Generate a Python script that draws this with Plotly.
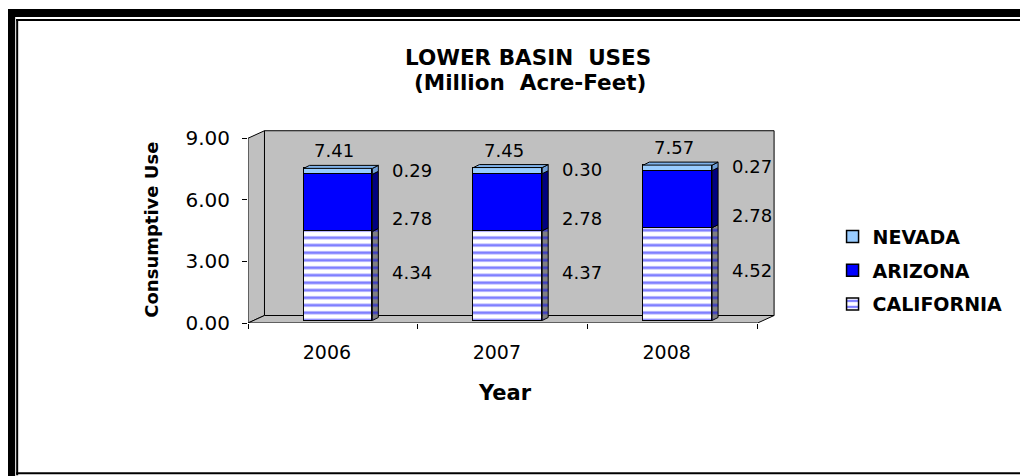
import plotly.graph_objects as go

# ---------------- data ----------------
years = ["2006", "2007", "2008"]
california = [4.34, 4.37, 4.52]
arizona = [2.78, 2.78, 2.78]
nevada = [0.29, 0.30, 0.27]
y_tick_vals = [0, 3, 6, 9]
y_tick_text = ["0.00", "3.00", "6.00", "9.00"]

idx = list(range(len(years)))
totals = [round(c + a + n, 2) for c, a, n in zip(california, arizona, nevada)]

# ---------------- geometry (pixels, in the 1028x476 reference frame) ----------------
OFF = 8                    # page body margin of the html page
W, H = 1028 - OFF, 476 - OFF
X_MIN, X_MAX = -0.5, 2.62
Y_MIN, Y_MAX = 0.0, 9.45
PX_X = 170.0          # px per category
PX_Y = 20.56          # px per unit
L_REF = 248.0
BOTTOM_REF = 323.5
PLOT_W = (X_MAX - X_MIN) * PX_X
PLOT_H = (Y_MAX - Y_MIN) * PX_Y
L = L_REF - OFF
T = BOTTOM_REF - PLOT_H - OFF
R = W - L - PLOT_W
B = H - (BOTTOM_REF - OFF)

def pxx(x):
    return (x - L_REF) / PLOT_W

def pxy(y):
    return (BOTTOM_REF - y) / PLOT_H

# depth of the 3D box (data units)
DXW, DYW = 0.097, 0.365
# bar plane shift (px) relative to front plane
BSX, BSY = 5.0, 2.5
# bar geometry
BAR_W = 0.405
DDX, DDY = 6.0 / PX_X, 3.0 / PX_Y

FONT = "DejaVu Sans"
BLUE = "#0000FF"
LIGHT = "#99CCFF"

fig = go.Figure()

series = [
    ("CALIFORNIA", california, "white", dict(shape="-", fgcolor=BLUE, bgcolor="white", size=7.5, solidity=0.38), 3),
    ("ARIZONA", arizona, BLUE, None, 2),
    ("NEVADA", nevada, LIGHT, None, 1),
]
for name, vals, col, pat, rank in series:
    marker = dict(color=col, line=dict(color="black", width=1.5))
    if pat:
        marker["pattern"] = pat
    fig.add_trace(go.Bar(
        x=idx, y=vals, name=name, width=BAR_W, marker=marker,
        xaxis="x2", yaxis="y2", legendgroup=name, legendrank=rank, hoverinfo="skip",
    ))

# side faces and top faces of the columns, derived from the data
side_cols = {"CALIFORNIA": "#808080", "ARIZONA": "#000080", "NEVADA": "#6F9FD8"}
base = [0.0] * len(idx)
hw = BAR_W / 2
for name, vals, col, pat, rank in series:
    for i in idx:
        b = base[i]
        t = b + vals[i]
        xs = [i + hw, i + hw + DDX, i + hw + DDX, i + hw, i + hw]
        ys = [b, b + DDY, t + DDY, t, b]
        kw = {}
        if name == "CALIFORNIA":
            kw["fillpattern"] = dict(shape="-", fgcolor=BLUE, bgcolor="#808080", size=7.5, solidity=0.38)
        fig.add_trace(go.Scatter(
            x=xs, y=ys, mode="lines", fill="toself", fillcolor=side_cols[name],
            line=dict(color="black", width=1), xaxis="x2", yaxis="y2",
            showlegend=False, hoverinfo="skip", **kw))
    base = [base[i] + vals[i] for i in idx]
for i in idx:
    tp = totals[i]
    fig.add_trace(go.Scatter(
        x=[i - hw, i - hw + DDX, i + hw + DDX, i + hw, i - hw],
        y=[tp, tp + DDY, tp + DDY, tp, tp],
        mode="lines", fill="toself", fillcolor="#7FB2EA",
        line=dict(color="black", width=1), xaxis="x2", yaxis="y2",
        showlegend=False, hoverinfo="skip"))

# ---------------- 3D walls ----------------
shapes = []
wall = dict(type="path", xref="x", yref="y", fillcolor="#C0C0C0",
            line=dict(color="black", width=1), layer="below")
shapes.append(dict(wall, path=f"M{X_MIN+DXW},{DYW} L{2.5+DXW},{DYW} L{2.5+DXW},{9+DYW} L{X_MIN+DXW},{9+DYW} Z"))
shapes.append(dict(wall, path=f"M{X_MIN},0 L{X_MIN},9 L{X_MIN+DXW},{9+DYW} L{X_MIN+DXW},{DYW} Z"))
shapes.append(dict(wall, path=f"M{X_MIN},0 L2.5,0 L{2.5+DXW},{DYW} L{X_MIN+DXW},{DYW} Z"))

# ---------------- outer frame ----------------
def prect(x0, y0, x1, y1):
    return dict(type="rect", xref="paper", yref="paper",
                x0=pxx(x0), x1=pxx(x1), y0=pxy(y1), y1=pxy(y0),
                fillcolor="black", line=dict(width=0), layer="above")

shapes += [
    prect(7, 9, 15, 480),      # thick left
    prect(7, 9, 1040, 17),     # thick top
    prect(16, 19, 18, 476),    # thin left
    prect(16, 19, 1040, 21),   # thin top
    prect(16, 473, 1040, 475), # thin bottom
]

# ---------------- annotations ----------------
ann = []
for i in idx:
    ann.append(dict(x=i, y=totals[i], xref="x2", yref="y2", text=f"{totals[i]:.2f}",
                    showarrow=False, xanchor="center", yanchor="bottom", yshift=5, xshift=-4,
                    font=dict(family=FONT, size=18, color="black")))
base = [0.0] * len(idx)
label_yshift = {"CALIFORNIA": 3.5, "ARIZONA": -16, "NEVADA": 1}
for name, vals, col, pat, rank in series:
    for i in idx:
        ann.append(dict(x=i, y=base[i] + vals[i] / 2, xref="x2", yref="y2",
                        text=f"{vals[i]:.2f}", showarrow=False, xshift=74,
                        xanchor="center", yanchor="middle",
                        yshift=label_yshift[name],
                        font=dict(family=FONT, size=18, color="black")))
    base = [base[i] + vals[i] for i in idx]

def pann(x, y, text, size, angle=0):
    return dict(x=pxx(x), y=pxy(y), xref="paper", yref="paper", showarrow=False,
                xanchor="center", yanchor="middle", text=text, textangle=angle,
                font=dict(family=FONT, size=size, color="black"))

ann.append(pann(528, 57.5, "<b>LOWER BASIN\u00a0 USES</b>", 21.5))
ann.append(pann(530, 82.5, "<b>(Million\u00a0 Acre-Feet)</b>", 21.5))
ann.append(pann(505, 394, "<b>Year</b>", 21))
ann.append(pann(152, 230, "<b>Consumptive Use</b>", 18, -90))

fig.update_layout(
    width=W, height=H,
    margin=dict(l=L, r=R, t=T, b=B, pad=0),
    paper_bgcolor="white", plot_bgcolor="white",
    barmode="stack", bargap=0,
    showlegend=True,
    legend=dict(x=pxx(833), y=pxy(218), xanchor="left", yanchor="top",
                traceorder="grouped", tracegroupgap=6,
                font=dict(family=FONT, size=19, color="black", weight="bold"),
                bgcolor="rgba(0,0,0,0)"),
    xaxis=dict(range=[X_MIN, X_MAX], tickvals=idx, ticktext=years, ticks="",
               showgrid=False, zeroline=False, showline=False, automargin=False,
               ticklabelstandoff=16, ticklabelshift=-6,
               minor=dict(tickvals=[-0.5, 0.5, 1.5, 2.5], ticks="outside", ticklen=5,
                          tickcolor="black", tickwidth=1, showgrid=False),
               tickfont=dict(family=FONT, size=19, color="black")),
    yaxis=dict(range=[Y_MIN, Y_MAX], tickvals=y_tick_vals, ticktext=y_tick_text,
               ticks="outside", ticklen=5, tickcolor="black", tickwidth=1,
               showgrid=False, zeroline=False, showline=False, automargin=False,
               ticklabelstandoff=8,
               tickfont=dict(family=FONT, size=20, color="black")),
    xaxis2=dict(range=[X_MIN - BSX / PX_X, X_MAX - BSX / PX_X], overlaying="x",
                visible=False, showgrid=False, zeroline=False),
    yaxis2=dict(range=[Y_MIN - BSY / PX_Y, Y_MAX - BSY / PX_Y], overlaying="y",
                visible=False, showgrid=False, zeroline=False),
    shapes=shapes,
    annotations=ann,
)

fig.write_html("out.html")
